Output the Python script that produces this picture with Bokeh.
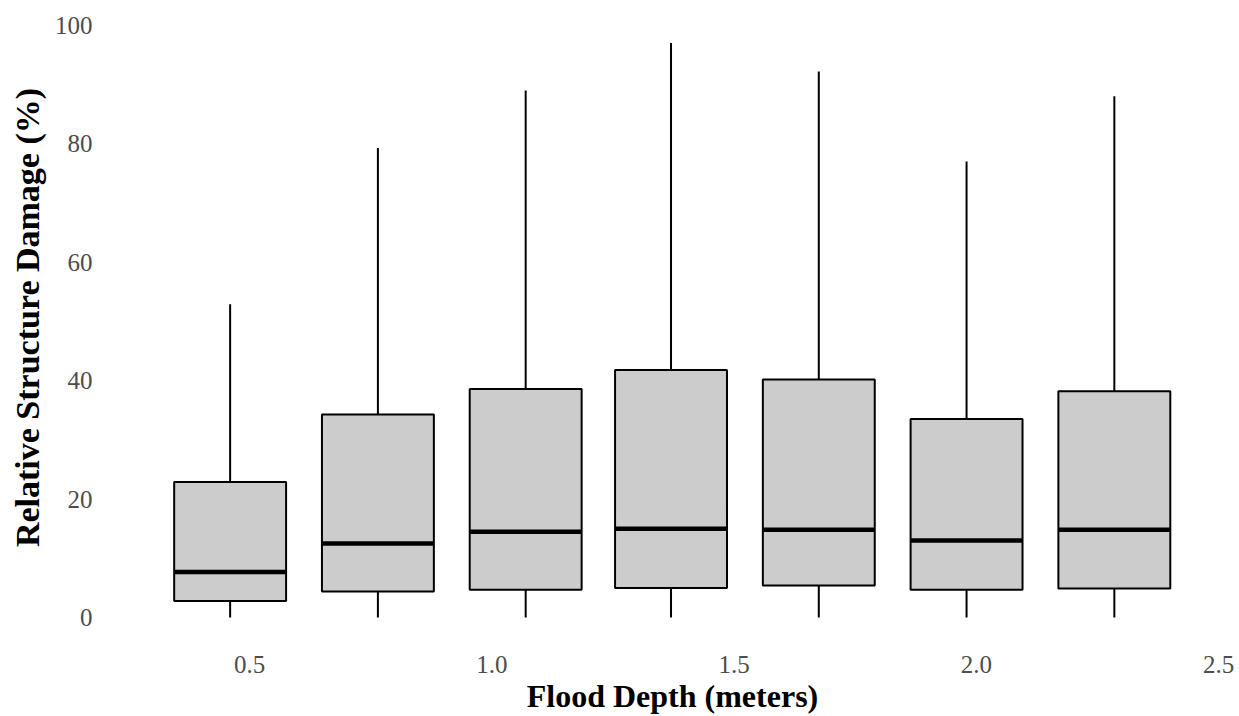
from bokeh.plotting import figure
from bokeh.models import ColumnDataSource, Range1d, FixedTicker
from bokeh.embed import file_html
from bokeh.resources import INLINE

# Data (Relative Structure Damage % by flood depth bin)
depth = [0.46, 0.765, 1.07, 1.37, 1.675, 1.98, 2.285]
lower = [0.0, 0.0, 0.0, 0.0, 0.0, 0.0, 0.0]
q1 = [2.8, 4.4, 4.7, 5.0, 5.4, 4.7, 4.9]
median = [7.7, 12.5, 14.5, 15.0, 14.8, 13.0, 14.8]
q3 = [22.9, 34.3, 38.6, 41.8, 40.2, 33.5, 38.2]
upper = [52.9, 79.3, 89.0, 97.0, 92.2, 77.0, 88.0]
x_ticks = [0.5, 1.0, 1.5, 2.0, 2.5]
y_ticks = [0, 20, 40, 60, 80, 100]
box_width = 0.231

src = ColumnDataSource(dict(
    x=depth, lower=lower, q1=q1, med=median, q3=q3, upper=upper,
    left=[d - box_width / 2 for d in depth],
    right=[d + box_width / 2 for d in depth],
))

p = figure(width=1239, height=716, output_backend="svg", toolbar_location=None,
           x_range=Range1d(0.2234, 2.5227), y_range=Range1d(-1.18, 102.5),
           min_border_left=115, min_border_right=10, min_border_top=10,
           min_border_bottom=90)
p.outline_line_color = None
p.background_fill_color = "white"
p.border_fill_color = "white"
p.xgrid.visible = False
p.ygrid.visible = False

# whiskers
p.segment(x0="x", y0="q3", x1="x", y1="upper", source=src, line_color="black", line_width=2)
p.segment(x0="x", y0="lower", x1="x", y1="q1", source=src, line_color="black", line_width=2)
# boxes
p.vbar(x="x", width=box_width, top="q3", bottom="q1", source=src,
       fill_color="#cccccc", line_color="black", line_width=2)
# medians
p.segment(x0="left", y0="med", x1="right", y1="med", source=src, line_color="black", line_width=4.5)

font = "Liberation Serif"
for ax in (p.xaxis, p.yaxis):
    ax.axis_line_color = None
    ax.major_tick_line_color = None
    ax.minor_tick_line_color = None
    ax.major_tick_in = 0
    ax.major_tick_out = 0
    ax.major_label_text_font = font
    ax.major_label_text_font_size = "25px"
    ax.major_label_text_color = "#4d4d4d"
    ax.axis_label_text_font = font
    ax.axis_label_text_font_style = "bold"
    ax.axis_label_text_color = "black"

p.xaxis.axis_label_text_font_size = "32px"
p.yaxis.axis_label_text_font_size = "34px"
p.xaxis.ticker = FixedTicker(ticks=x_ticks)
p.yaxis.ticker = FixedTicker(ticks=y_ticks)
p.xaxis.major_label_overrides = {t: f"{t:.1f}" for t in x_ticks}
p.xaxis.axis_label = "Flood Depth (meters)"
p.yaxis.axis_label = "Relative Structure Damage (%)"
p.yaxis.major_label_standoff = 23
p.xaxis.major_label_standoff = 31
p.yaxis.axis_label_standoff = 6
p.xaxis.axis_label_standoff = 2

open("out.html", "w").write(file_html(p, INLINE))
